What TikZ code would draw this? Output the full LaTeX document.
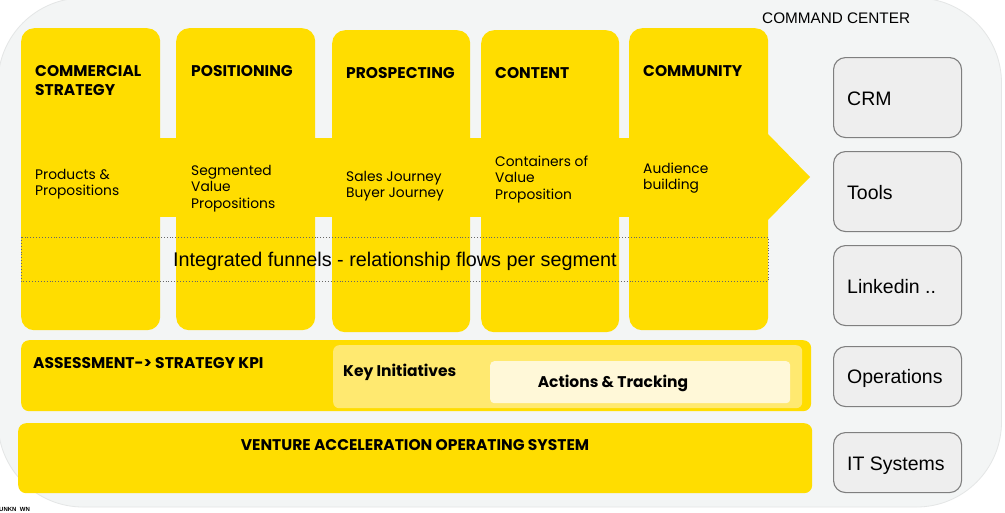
\documentclass[tikz,border=0pt]{standalone}
\usepackage{fontspec}
\setmainfont{Poppins}
\newfontfamily\arialf{Liberation Sans}
\definecolor{ybg}{HTML}{FFDD00}
\definecolor{panelbg}{HTML}{F3F5F5}
\definecolor{panelline}{HTML}{E4E6E6}
\definecolor{keyinit}{HTML}{FFE970}
\definecolor{actbg}{HTML}{FFF8D8}
\definecolor{grayfill}{HTML}{EEEEEE}
\definecolor{grayline}{HTML}{7F7F7F}
\definecolor{dotline}{HTML}{666666}
\tikzset{
  colbox/.style={fill=ybg, rounded corners=13pt, inner sep=0pt, anchor=north west},
  bandbox/.style={fill=ybg, rounded corners=8pt, inner sep=0pt, anchor=north west},
  graybox/.style={draw=grayline, line width=1.1pt, fill=grayfill, rounded corners=12pt, inner sep=0pt, anchor=north west, minimum width=128pt},
  titletxt/.style={inner sep=0pt, anchor=base west, font=\fontsize{15.5}{19}\selectfont\bfseries},
  bodytxt/.style={inner sep=0pt, anchor=base west, font=\fontsize{13.8}{16.6}\selectfont},
  bandtxt/.style={inner sep=0pt, anchor=base west, font=\fontsize{15.5}{17}\selectfont\bfseries},
  graytxt/.style={inner sep=0pt, anchor=base west, font=\arialf\fontsize{19.5}{22}\selectfont},
}
\newcommand{\ml}[1]{\begin{tabular}[t]{@{}l@{}}#1\end{tabular}}
\begin{document}
\begin{tikzpicture}[x=1pt,y=-1pt]
\useasboundingbox (0,0) rectangle (1005,512);
\clip (0,0) rectangle (1005,512);
\fill[white] (0,0) rectangle (1005,512);
\draw[panelline, fill=panelbg, line width=0.8pt, rounded corners=85pt] (-2,-2) rectangle (1001.5,507);

% yellow columns
\node[colbox, minimum width=139pt, minimum height=302pt] (c1) at (21,28) {};
\node[colbox, minimum width=139pt, minimum height=302pt] (c2) at (176,28) {};
\node[colbox, minimum width=138pt, minimum height=302pt] (c3) at (332,30) {};
\node[colbox, minimum width=138pt, minimum height=302pt] (c4) at (481,30) {};
\node[colbox, minimum width=139pt, minimum height=302pt] (c5) at (629,28) {};
% arrow band
\fill[ybg] (21,138) rectangle (768,217);
\fill[ybg] (767,133) -- (810,177) -- (767,221) -- cycle;

% titles
\node[titletxt] (t1) at (35,76) {\ml{COMMERCIAL\\STRATEGY}};
\node[titletxt] (t2) at (191,76) {POSITIONING};
\node[titletxt] (t3) at (346,78) {PROSPECTING};
\node[titletxt] (t4) at (495,78) {CONTENT};
\node[titletxt] (t5) at (643,76) {COMMUNITY};
% bodies
\node[bodytxt] (b1) at (35,179) {\ml{Products \&\\Propositions}};
\node[bodytxt] (b2) at (191,175) {\ml{Segmented\\Value\\Propositions}};
\node[bodytxt] (b3) at (346,181) {\ml{Sales Journey\\Buyer Journey}};
\node[bodytxt] (b4) at (495,166) {\ml{Containers of\\Value\\Proposition}};
\node[bodytxt] (b5) at (643,173) {\ml{Audience\\building}};

% dotted funnel box
\draw[dotline, dotted, line width=0.9pt] (21,237) rectangle (768,281);
\node[inner sep=0pt, anchor=base west, font=\arialf\fontsize{19.8}{22}\selectfont] (funnel) at (173,266) {Integrated funnels - relationship flows per segment};

% bottom bands
\node[bandbox, minimum width=790pt, minimum height=71pt] (assess) at (21,340) {};
\node[fill=keyinit, rounded corners=6pt, inner sep=0pt, anchor=north west, minimum width=469pt, minimum height=63pt] (keyi) at (333,345) {};
\node[fill=actbg, rounded corners=4pt, inner sep=0pt, anchor=north west, minimum width=300pt, minimum height=42pt] (act) at (490,361) {};
\node[bandtxt] (assesst) at (33,368) {ASSESSMENT-> STRATEGY KPI};
\node[bandtxt] (keyit) at (343,376) {Key Initiatives};
\node[inner sep=0pt, anchor=base, font=\fontsize{15.5}{17}\selectfont\bfseries] (actt) at (613,387) {Actions \& Tracking};
\node[bandbox, minimum width=794pt, minimum height=70pt] (vaos) at (18,423) {};
\node[inner sep=0pt, anchor=base, font=\fontsize{15.5}{17}\selectfont\bfseries] (vaost) at (415,450) {VENTURE ACCELERATION OPERATING SYSTEM};

% command center
\node[inner sep=0pt, anchor=base west, font=\arialf\fontsize{15.3}{17}\selectfont] (cc) at (762,23) {COMMAND CENTER};
\node[graybox, minimum height=80pt] (crm) at (833,57) {};
\node[graybox, minimum height=80pt] (tools) at (833,151) {};
\node[graybox, minimum height=80pt] (lnk) at (833,245) {};
\node[graybox, minimum height=60pt] (ops) at (833,346) {};
\node[graybox, minimum height=60pt] (its) at (833,432) {};
\node[graytxt] (crmt) at (847,105) {CRM};
\node[graytxt] (toolst) at (847,199) {Tools};
\node[graytxt] (lnkt) at (847,293) {Linkedin ..};
\node[graytxt] (opst) at (847,383) {Operations};
\node[graytxt] (itst) at (847,470) {IT Systems};

% cut-off footer text
\node[inner sep=0pt, anchor=north west, font=\arialf\fontsize{6}{7}\selectfont\bfseries] (foot) at (-1,507.5) {UNKN\ \ WN};
\end{tikzpicture}
\end{document}
